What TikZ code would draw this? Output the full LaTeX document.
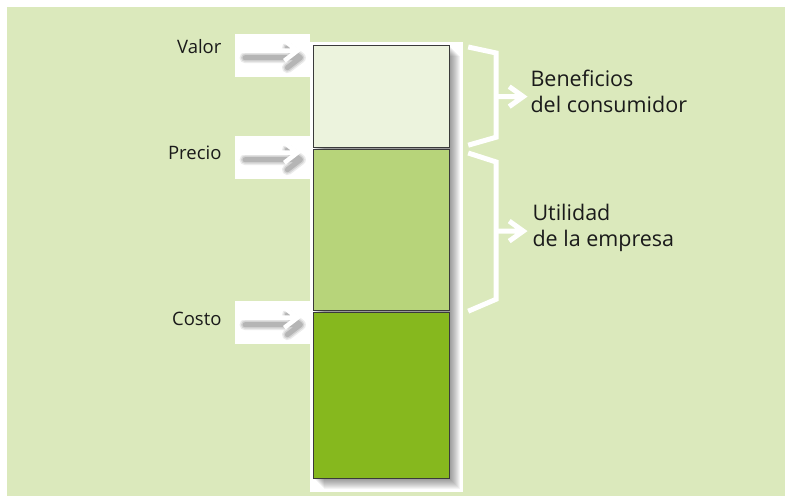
\documentclass[tikz,border=0pt]{standalone}
\usepackage{fontspec}
\setmainfont{Open Sans}

\definecolor{bggreen}{HTML}{DBE9BC}
\definecolor{valorfill}{HTML}{ECF3DD}
\definecolor{preciofill}{HTML}{B7D47A}
\definecolor{costofill}{HTML}{86B81E}
\definecolor{barline}{HTML}{3A3A3A}
\definecolor{txt}{HTML}{1A1A1A}

\tikzset{
  bar/.style={draw=barline, line width=1.2pt, minimum width=136pt, anchor=north west, inner sep=0pt},
  patch/.style={fill=white, minimum width=75pt, minimum height=43pt, anchor=north west, inner sep=0pt},
  lbl/.style={anchor=east, text=txt, font=\fontsize{18.5}{22}\selectfont},
  bigtxt/.style={anchor=west, align=left, text=txt, font=\fontsize{21.5}{26}\selectfont},
  whitearrow/.style={white, line width=4.5pt, line join=miter},
  arrowshadow/.style={black, line join=round, line cap=round},
  brace/.style={white, line width=5pt, line join=miter}
}

\begin{document}
\begin{tikzpicture}[x=1pt, y=-1pt]
\useasboundingbox (0,0) rectangle (787,498);
\fill[white] (0,0) rectangle (787,498);
\fill[bggreen] (7,7) rectangle (785,496);

% white panel behind the column
\fill[white] (310,42) rectangle (463,492);
\foreach \i in {1,...,11}
  \fill[black, opacity=0.045] (313+\i,45+\i) rectangle (449+\i,478+\i);

% column
\node[bar, fill=valorfill, minimum height=102pt] (benef) at (313,45) {};
\node[bar, fill=preciofill, minimum height=161pt] (util) at (313,149) {};
\node[bar, fill=costofill, minimum height=166pt] (costo) at (313,312) {};

% labels and arrows on the left
\node[patch] (valpatch) at (235,34) {};
\node[patch] (prepatch) at (235,136) {};
\node[patch] (cospatch) at (235,301) {};
\node[lbl] (valor) at (225,47) {Valor};
\node[lbl] (precio) at (225,153) {Precio};
\node[lbl] (cost) at (225,319) {Costo};
\foreach \p in {valpatch, prepatch, cospatch} {
  \coordinate (tail) at ([xshift=7pt, yshift=5pt]\p.west);
  \coordinate (tip) at ([xshift=-13pt, yshift=5pt]\p.east);
  \coordinate (stail) at ([xshift=10pt, yshift=-2pt]\p.west);
  \coordinate (stip) at ([xshift=-10pt, yshift=-2pt]\p.east);
  \foreach \w/\o in {11/0.08, 8/0.1, 5/0.14}
    \draw[arrowshadow, line width=\w pt, opacity=\o]
      (stail) -- (stip) ([shift={(-13pt,10pt)}]stip) -- (stip) -- ([shift={(-13pt,-10pt)}]stip);
  \draw[whitearrow] (tail) -- (tip) ([shift={(-13pt,10pt)}]tip) -- (tip) -- ([shift={(-13pt,-10pt)}]tip);
}

% braces
\draw[brace] ([xshift=18pt, yshift=-2pt]benef.north east) -- ([xshift=46pt, yshift=-8pt]benef.north east)
  -- ([xshift=46pt, yshift=11pt]benef.south east) -- ([xshift=18pt, yshift=3pt]benef.south east);
\coordinate (btip) at ([xshift=73pt]benef.east);
\draw[brace] ([xshift=46pt]benef.east) -- (btip)
  ([shift={(-14pt,10pt)}]btip) -- (btip) -- ([shift={(-14pt,-10pt)}]btip);
\draw[brace] ([xshift=18pt, yshift=-4pt]util.north east) -- ([xshift=46pt, yshift=-13pt]util.north east)
  -- ([xshift=46pt, yshift=12pt]util.south east) -- ([xshift=18pt]util.south east);
\coordinate (utip) at ([xshift=73pt, yshift=-1pt]util.east);
\draw[brace] ([xshift=46pt, yshift=-1pt]util.east) -- (utip)
  ([shift={(-14pt,10pt)}]utip) -- (utip) -- ([shift={(-14pt,-10pt)}]utip);

\node[bigtxt] (benefit) at (527,91) {Beneficios\\del consumidor};
\node[bigtxt] (profit) at (529,228) {Utilidad\\de la empresa};
\end{tikzpicture}
\end{document}
